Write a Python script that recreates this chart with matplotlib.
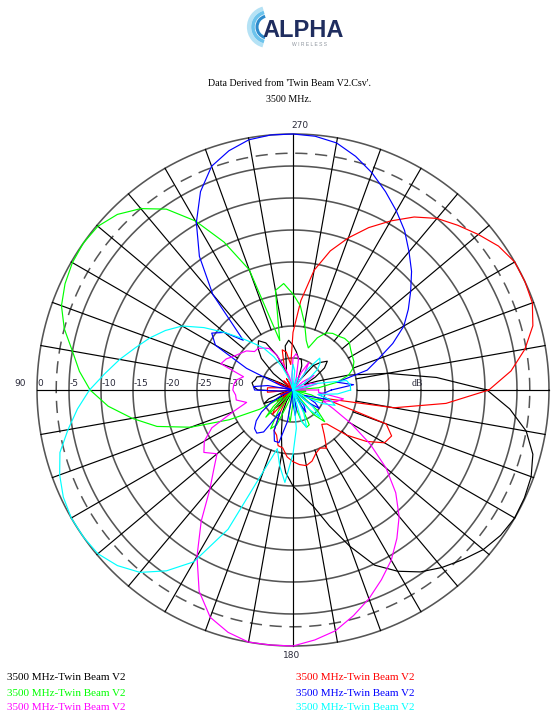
import numpy as np
import matplotlib
matplotlib.use("Agg")
import matplotlib.pyplot as plt
from matplotlib.patches import Arc

# ---------------- data (gain in dB, every 5 degrees, 0 deg = right, counter-clockwise) ----------------
angles_deg = list(range(0, 360, 5))

black_db = [-9.7, -17.5, -25, -31, -36, -38, -36, -34, -33, -33.9,
            -35, -38, -40, -38, -36, -35, -35, -34, -33, -32.2,
            -33, -36, -37, -34, -31.5, -30.6, -31.5, -33, -36, -40,
            -38, -35, -34, -33.9, -33.5, -33.8, -34.5, -38, -40, -38,
            -36, -35, -37, -40, -38, -36, -37, -40, -38, -36,
            -35, -33, -30, -27, -25, -23.5, -21.5, -18, -14, -9.8,
            -7.3, -5.3, -3.8, -2.5, -1.2, -0.4, 0, -0.1, -0.4, -1.2,
            -3, -6]

red_db = [-9.4, -5.8, -3.2, -1.2, -0.2, 0, 0, -0.8, -2.2, -3.6,
          -5, -7, -9.5, -12, -14.7, -17.5, -21, -26, -31, -36,
          -34, -33.5, -36, -40, -38, -40, -40, -38, -40, -40,
          -40, -37, -40, -40, -38, -36, -36, -36, -40, -40,
          -38, -40, -40, -37, -40, -36, -35, -38, -36, -33,
          -32.5, -31, -30.8, -29.5, -28.8, -28.3, -28, -28.5, -29.5, -30,
          -29.5, -31.5, -33, -32.5, -29, -26, -23.5, -23, -24.5, -35,
          -24, -16]

green_db = [-40, -36, -33, -31, -30, -29.5, -29.3, -29, -28.5, -28.6,
            -29, -29.2, -29.7, -31, -33, -32, -29.5, -26.8, -25, -23.3,
            -24.2, -32, -20, -14.5, -9.5, -5.5, -3, -1.2, -0.2, 0,
            -0.2, -0.7, -1.5, -3, -5, -6.5, -8.3, -11, -14.5, -18,
            -23, -29, -34, -38, -36, -34, -40, -36, -33, -34,
            -38, -40, -36, -35, -38, -40, -37, -35, -33.8, -34,
            -38, -40, -35, -33, -35, -38, -40, -37, -35, -37,
            -40, -38]

blue_db = [-34, -30.5, -33, -28, -25.8, -22.8, -20, -18, -16, -13.8,
           -11.8, -9.6, -7.7, -5.8, -3.9, -2.2, -0.8, -0.2, 0, 0,
           -0.3, -1.3, -2.8, -5.8, -9.8, -14.5, -20.5, -29, -26, -24.5,
           -26, -32, -38, -40, -36, -33.8, -34, -38, -40, -40,
           -40, -38, -36, -34, -32.5, -31.5, -31.2, -32, -36, -33,
           -31.5, -31.5, -35, -40, -38, -36, -37, -40, -40, -38,
           -36, -37, -40, -40, -37, -35, -36, -38, -37, -34,
           -36, -35]

magenta_db = [-36, -40, -38, -36, -37, -40, -38, -36, -38, -40,
              -40, -37, -35, -37, -40, -38, -35, -34.3, -35, -38,
              -40, -38, -36, -34, -32.5, -32, -31.5, -31.5, -30.5, -30,
              -29.4, -28.5, -28, -32, -31, -30.7, -30.6, -31, -31, -32.5,
              -30, -26, -24, -23, -24.5, -22.5, -19.8, -15, -10, -5.3,
              -2.2, -0.8, 0, 0, 0, -0.8, -1.8, -3.5, -5.3, -7.3,
              -9.3, -11.7, -14.2, -17.3, -21, -25.3, -29.5, -33, -35, -33,
              -32, -36]

cyan_db = [-31, -31, -31.5, -36, -40, -40, -38, -37, -35, -34,
           -33.5, -36, -40, -40, -38, -40, -40, -37, -36, -38,
           -40, -40, -38, -36, -34, -32, -30.5, -28.5, -26, -23,
           -20, -18, -16.2, -14.5, -12.5, -10.5, -8.2, -6.2, -4.3, -2.3,
           -1.2, -0.4, 0, 0, -0.2, -1.2, -2.8, -5.5, -9, -16,
           -26.5, -30.5, -28, -25.5, -30, -34, -40, -35, -33.8, -36,
           -40, -38, -36, -34, -36, -40, -38, -35, -33, -34,
           -36, -33]

series_names = ["3500 MHz-Twin Beam V2"] * 6
series_colors = ["#000000", "#ff0000", "#00ff00", "#0000ff", "#ff00ff", "#00ffff"]
series_data = [black_db, red_db, green_db, blue_db, magenta_db, cyan_db]

ring_levels = [-35, -30, -25, -20, -15, -10, -5, 0]
tick_levels = [0, -5, -10, -15, -20, -25, -30]
tick_labels = ["0", "-5", "-10", "-15", "-20", "-25", "-30"]
spoke_angles = list(range(0, 360, 10))

title_lines = ["Data Derived from 'Twin Beam V2.Csv'.", "3500 MHz."]

# ---------------- figure ----------------
W, H = 553, 715
fig = plt.figure(figsize=(W / 100, H / 100), dpi=100)
fig.patch.set_facecolor("white")

cx, cy, R = 293, 390, 256
ax = fig.add_axes([(cx - R) / W, (H - cy - R) / H, 2 * R / W, 2 * R / H], projection="polar")
ax.set_theta_zero_location("E")
ax.set_theta_direction(1)
ax.set_ylim(-40, 0)
ax.grid(False)
ax.set_xticks([])
ax.set_yticks([])
ax.spines["polar"].set_visible(False)
ax.patch.set_alpha(0)

serif = ["Liberation Serif", "DejaVu Serif"]
sans = ["DejaVu Sans"]

th = np.linspace(0, 2 * np.pi, 721)
for lev in ring_levels:
    ax.plot(th, np.full_like(th, lev), color="#555555", lw=1.15, clip_on=False, zorder=1)
ax.plot(th, np.full_like(th, -3), color="#555555", lw=1.1, dashes=(8, 5), clip_on=False, zorder=1)
for a in spoke_angles:
    ax.plot([np.radians(a)] * 2, [-30, 0], color="black", lw=0.85, clip_on=False, zorder=1)

for lev, txt in zip(tick_levels, tick_labels):
    ax.annotate(txt, xy=(np.pi, lev), xytext=(0.5, 1.5), textcoords="offset points",
                ha="left", va="bottom", fontsize=6.5, family=sans, color="#2a2a3a")

for vals, col in zip(series_data, series_colors):
    t = np.radians(angles_deg + [360])
    v = np.array(vals + [vals[0]], dtype=float)
    v = np.clip(v, -40, 0)
    ax.plot(t, v, color=col, lw=0.85, clip_on=False, zorder=3)

# ---------------- overlay for texts and logo (pixel coordinates) ----------------
ov = fig.add_axes([0, 0, 1, 1], zorder=5)
ov.set_xlim(0, W)
ov.set_ylim(H, 0)
ov.axis("off")
ov.patch.set_alpha(0)

# logo
for rr, col, lw in [(19, "#b5e2f5", 3.0), (15, "#6cc3ec", 2.6), (11, "#2d8bcc", 2.2)]:
    ov.add_patch(Arc((268, 27), 2 * rr, 2 * rr, theta1=105, theta2=255, color=col, lw=lw))
ov.text(262, 37, "ALPHA", fontsize=17, fontweight="bold", color="#1f2d5f",
        family=["Liberation Sans", "DejaVu Sans"], ha="left", va="baseline")
ov.text(309, 44, "W I R E L E S S", fontsize=3.6, color="#8e959e",
        family=["Liberation Sans", "DejaVu Sans"], ha="center", va="center")

ov.text(289, 84, title_lines[0], fontsize=7.2, family=serif, ha="center", va="center")
ov.text(289, 99, title_lines[1], fontsize=7.2, family=serif, ha="center", va="center")

ov.text(300, 126, "270", fontsize=6.5, family=sans, ha="center", va="center", color="#2a2a3a")
ov.text(292, 656, "180", fontsize=6.5, family=sans, ha="center", va="center", color="#2a2a3a")
ov.text(20, 383, "90", fontsize=6.5, family=sans, ha="center", va="center", color="#2a2a3a")
ov.text(417, 383, "dB", fontsize=7, family=serif, ha="center", va="center", color="#2a2a3a")

# legend
legend_pos = [(7, 678), (296, 678), (7, 693), (296, 693), (7, 707), (296, 707)]
for (lx, ly), name, col in zip(legend_pos, series_names, series_colors):
    ov.text(lx, ly, name, fontsize=8, family=serif, color=col, ha="left", va="center")

fig.savefig("out.png", dpi=100, facecolor="white")
